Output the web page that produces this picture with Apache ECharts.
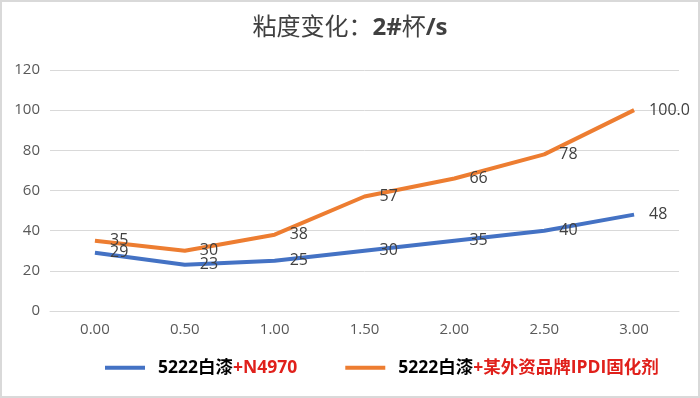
<!DOCTYPE html>
<html>
<head>
<meta charset="utf-8">
<script src="https://cdn.jsdelivr.net/npm/echarts@6/dist/echarts.min.js"></script>
<style>
  html, body { margin: 0; padding: 0; background: #fff; }
  #wrap { position: relative; width: 700px; height: 398px; }
  #chart { position: absolute; left: 0; top: 0; width: 700px; height: 398px; }
  #frame { position: absolute; left: 0; top: 0; width: 700px; height: 398px; box-sizing: border-box; border: 2px solid #d9d9d9; pointer-events: none; }
</style>
</head>
<body>
<div id="wrap">
  <div id="chart"></div>
  <div id="frame"></div>
</div>
<script>
const categories = ['0.00', '0.50', '1.00', '1.50', '2.00', '2.50', '3.00']
const n4970 = [29, 23, 25, 30, 35, 40, 48]
const ipdi = [35, 30, 38, 57, 66, 78, 100]
const ipdiLabels = ['35', '30', '38', '57', '66', '78', '100.0']
const yTicks = { min: 0, max: 120, interval: 20 }

const fontFamily = '"Open Sans", "Noto Sans CJK SC", sans-serif'

const chart = echarts.init(document.getElementById('chart'))

const labelStyle = {
  show: true,
  position: 'right',
  distance: 15,
  fontSize: 16,
  color: '#404040',
  fontFamily: fontFamily
}

chart.setOption({
  animation: false,
  textStyle: { fontFamily: fontFamily },
  title: {
    text: '{n|粘度变化：}{b|2#}{n|杯}{b|/s}',
    left: 'center',
    top: 11,
    textStyle: {
      fontWeight: 'normal',
      fontSize: 24,
      rich: {
        n: { fontSize: 24, color: '#404040', fontWeight: 'normal', fontFamily: fontFamily },
        b: { fontSize: 24, color: '#404040', fontWeight: 'bold', fontFamily: fontFamily }
      }
    }
  },
  grid: {
    left: 50,
    right: 21,
    top: 70,
    bottom: 87
  },
  legend: {
    left: 105,
    top: 359,
    padding: 0,
    itemWidth: 40,
    itemHeight: 4,
    itemGap: 48,
    icon: 'rect',
    data: ['n4970', 'ipdi'],
    formatter: function (name) {
      if (name === 'n4970') return '{a|5222白漆}{r|+N4970}'
      return '{a|5222白漆}{r|+某外资品牌IPDI固化剂}'
    },
    textStyle: {
      fontSize: 17.5,
      fontWeight: 'bold',
      rich: {
        a: { fontSize: 17.5, fontWeight: 'bold', color: '#000', padding: [0, 0, 0, 8], fontFamily: fontFamily },
        r: { fontSize: 17.5, fontWeight: 'bold', color: '#e0201b', fontFamily: fontFamily }
      }
    }
  },
  xAxis: {
    type: 'category',
    data: categories,
    boundaryGap: true,
    axisLine: { lineStyle: { color: '#d9d9d9', width: 1 } },
    axisTick: { show: false },
    axisLabel: { color: '#595959', fontSize: 15, margin: 11 }
  },
  yAxis: {
    type: 'value',
    min: yTicks.min,
    max: yTicks.max,
    interval: yTicks.interval,
    axisLine: { show: false },
    axisTick: { show: false },
    axisLabel: { color: '#595959', fontSize: 15, margin: 10 },
    splitLine: { lineStyle: { color: '#d9d9d9', width: 1 } }
  },
  series: [
    {
      name: 'n4970',
      type: 'line',
      data: n4970,
      symbol: 'circle',
      symbolSize: 0.1,
      showSymbol: true,
      itemStyle: { color: '#4472c4' },
      lineStyle: { color: '#4472c4', width: 4 },
      label: labelStyle
    },
    {
      name: 'ipdi',
      type: 'line',
      data: ipdi,
      symbol: 'circle',
      symbolSize: 0.1,
      showSymbol: true,
      itemStyle: { color: '#ed7d31' },
      lineStyle: { color: '#ed7d31', width: 4 },
      label: Object.assign({}, labelStyle, {
        formatter: function (p) { return ipdiLabels[p.dataIndex] }
      })
    }
  ]
})
</script>
</body>
</html>
